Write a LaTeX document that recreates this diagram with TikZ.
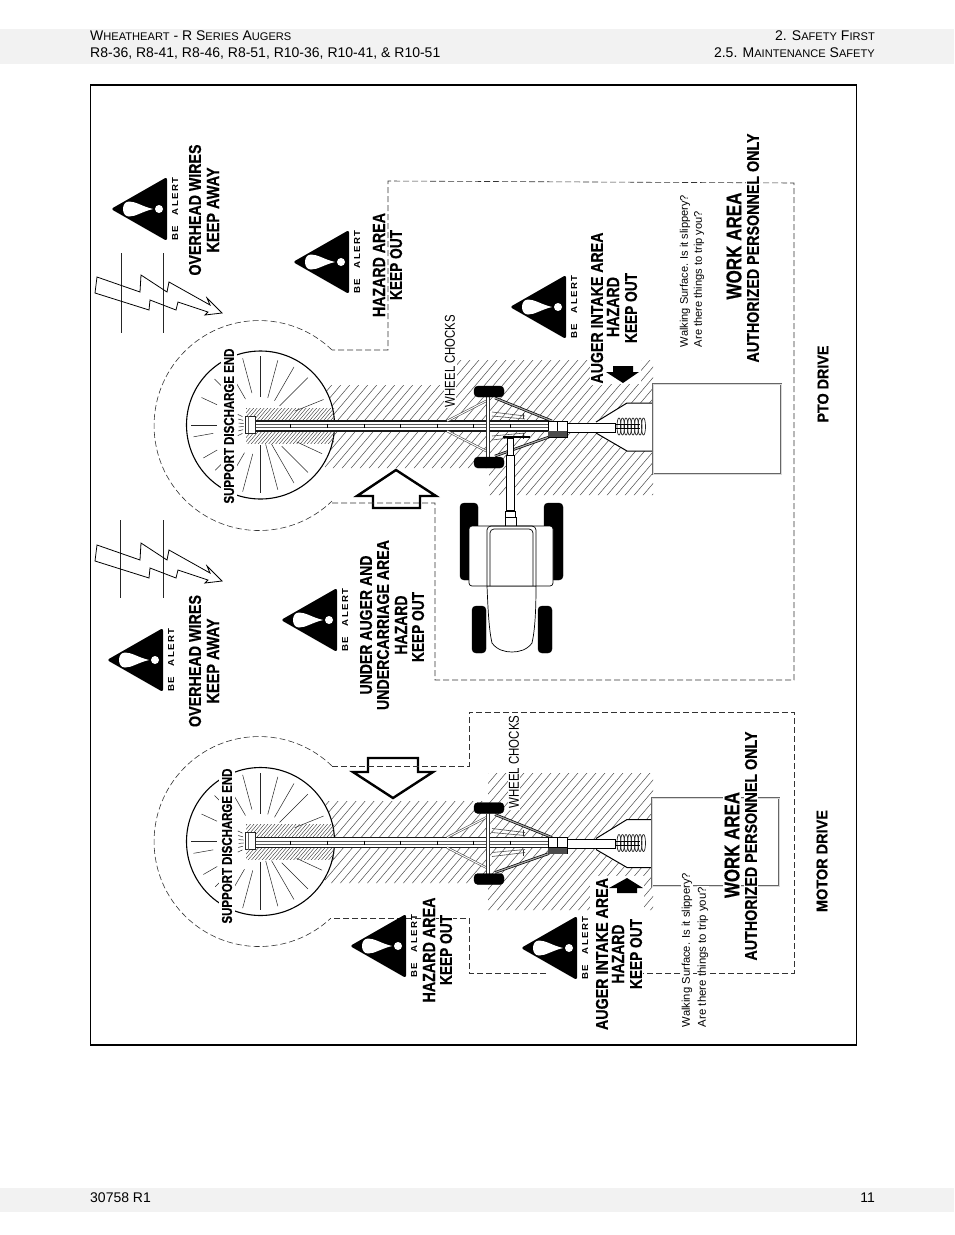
\documentclass[tikz,border=0pt]{standalone}
\usepackage{graphicx}
\usepackage{fontspec}
\usetikzlibrary{calc}
\setmainfont{Liberation Sans}
\newfontfamily\alertf[LetterSpace=14]{Liberation Sans}
\newfontfamily\labf[BoldFeatures={FakeBold=0.5}]{Liberation Sans}
\definecolor{bandgray}{HTML}{F2F2F2}
\tikzset{
  x=1pt,y=-1pt,
  lab/.style={rotate=90,fill=white,inner sep=1pt,anchor=center},
  hatchline/.style={line width=.5pt,black!70},
  dashline/.style={line width=.6pt,black!80,dash pattern=on 6pt off 3pt},
  spoke/.style={line width=.5pt,black!85},
  bigarrow/.style={draw=black,line width=2.4pt,fill=white,line join=miter},
  headtext/.style={anchor=base west,inner sep=0pt},
  headright/.style={anchor=base east,inner sep=0pt},
  strut/.style={line width=.6pt,black!70,double=white,double distance=1pt},
  drawbar/.style={line width=.7pt,black,double=black!35,double distance=1.2pt},
  tire/.style={fill=black,rounded corners=4pt},
  hopper/.style={line width=.7pt,black!60,fill=white,double=black!15,double distance=1pt}
}
\newcommand{\lbl}[6]{\node[lab] (#1) at (#2,#3) {\resizebox{#4pt}{#5pt}{\labf\bfseries #6}};}
\newcommand{\lblr}[6]{\node[lab] (#1) at (#2,#3) {\resizebox{#4pt}{#5}{#6}};}
\newcommand{\sctext}[2]{{\fontsize{14}{14}\selectfont #1}{\fontsize{11.1}{14}\selectfont #2}}
\newcommand{\alertsign}[3]{%
  \begin{scope}[shift={(#2,#3)}]
    \fill[black,rounded corners=2.5pt] (0,0)--(56,-32)--(56,32)--cycle;
    \fill[white] (42,0) .. controls (30,-3) and (25,-7.5) .. (18,-7.5) .. controls (10,-7.5) and (10,7.5) .. (18,7.5) .. controls (25,7.5) and (30,3) .. (42,0);
    \fill[white] (48,0) circle[radius=4];
    \node[rotate=90,inner sep=0pt] (#1) at (64,0) {\resizebox{63pt}{6pt}{\alertf\bfseries BE\hspace{1.1em}ALERT}};
  \end{scope}}
\newcommand{\hatchzone}[1]{%
  \begin{scope}
    \clip #1;
    \foreach \c in {650,659,...,1430} \draw[hatchline] (\c,0)--(\c-1105,1300);
  \end{scope}}
% the auger drawn for a tube on y=426; shifted for the lower one
\newcommand{\wheelplan}{%
  \fill[white] (260.5,425) circle[radius=74];
  \draw[line width=1.1pt,black] (260.5,425) circle[radius=74];
  \begin{scope}
    \clip (246,408) rectangle (334,443);
    \foreach \c in {590,593.5,...,715} \draw[line width=.4pt,black!80] (\c,0)--(\c-595,700);
  \end{scope}
  \foreach \a/\ri/\ro in {-90/28/69,-75/28/67,-60/28/67,-45/27/67,-22/37/68,-105/33/69,-120/30/66,-135/52/65,-155/48/65,180/44/70,170/48/68,150/50/66,135/52/64,120/32/67,105/30/69,90/20/68,75/20/67,60/22/67,45/30/67,25/40/68,155/20/25,165/18/23,175/17/22,185/17/22,195/18/23,205/20/25}
    \draw[spoke] ($(260.5,425)+(\a:\ri)$) -- ($(260.5,425)+(\a:\ro)$);
}
\newcommand{\augerplan}{%
  % tube
  \fill[white] (255,421) rectangle (548,431);
  \draw[line width=1.1pt,black!90] (255,421)--(548,421) (255,431)--(548,431);
  \draw[line width=.7pt,black!65] (255,424.5)--(548,424.5) (255,427.5)--(548,427.5);
  \foreach \x in {290,327,364,400,437,473,510} \draw[line width=.6pt,black] (\x,424)--(\x,428);
  \draw[line width=.8pt,black!85,fill=white] (245,416) rectangle (255,433);
  \draw[line width=.4pt,black!60] (248,416)--(248,433);
  % undercarriage
  \draw[strut] (488,400)--(447,421);
  \draw[strut] (488,452)--(447,431);
  \draw[line width=.6pt,black!70] (492,412)--(525,416) (492,416)--(525,419) (492,440)--(525,436) (492,436)--(525,433);
  \draw[line width=1pt,black!80] (523,413)--(523,419) (523,433)--(523,439);
  \draw[drawbar] (495,398)--(552,421);
  \draw[drawbar] (495,456)--(549,437);
  \draw[line width=.7pt,black!80,double=white,double distance=1.8pt] (488,397)--(488,457);
  \draw[tire] (474,386) rectangle (504,397);
  \draw[tire] (474,457) rectangle (504,468);
  % hopper funnel and intake
  \fill[white] (596,422)--(627,403)--(653,403)--(653,451)--(627,451)--(596,433)--cycle;
  \draw[line width=1pt,black] (652,403)--(627,403)--(596,422);
  \draw[line width=1pt,black] (652,451)--(627,451)--(596,433);
  \draw[line width=.9pt,black,fill=white] (567,423)--(615,423)--(615,432)--(567,432);
  \foreach \x in {619,622.5,...,645} \draw[line width=.7pt,black!85] (\x,426.5) ellipse[x radius=2,y radius=8.5];
  \draw[line width=.8pt,black] (615,424.5)--(640,424.5) (615,428.5)--(640,428.5);
  \draw[line width=1pt,black,fill=white] (548,421) rectangle (567,437);
  \draw[line width=.7pt,black] (557,421)--(557,431) (548,431)--(567,431);
  \fill[black!70] (548,431) rectangle (567,437);
}
\begin{document}
\begin{tikzpicture}
\useasboundingbox (0,0) rectangle (954,1235);
\fill[white] (0,0) rectangle (954,1235);
% bands
\fill[bandgray] (0,29) rectangle (954,64);
\fill[bandgray] (0,1188) rectangle (954,1212);
\node[headtext] (h1) at (90,40.5) {\sctext{W}{HEATHEART}\sctext{ - R S}{ERIES}\sctext{ A}{UGERS}};
\node[headtext] (h2) at (90,57.5) {\fontsize{14}{14}\selectfont R8-36, R8-41, R8-46, R8-51, R10-36, R10-41, \& R10-51};
\node[headright] (h3) at (875,40.5) {\sctext{2. S}{AFETY}\sctext{ F}{IRST}};
\node[headright] (h4) at (875,57.5) {\sctext{2.5. M}{AINTENANCE}\sctext{ S}{AFETY}};
\node[headtext] (f1) at (90,1202) {\fontsize{14}{14}\selectfont 30758 R1};
\node[headright] (f2) at (875,1202) {\fontsize{14}{14}\selectfont 11};
% frame
\draw[line width=1.4pt,black] (90.5,85) rectangle (856.5,1045);

% ---- TOP (PTO DRIVE)
\hatchzone{(325,385)--(457,385)--(457,360)--(653,360)--(653,495)--(489,495)--(489,468)--(325,468)--cycle}
\fill[white] (590,356) rectangle (641,384);
\wheelplan
\augerplan
\draw[hopper] (653,384) rectangle (781,474);
% lightning + wires
\draw[line width=.6pt,black!85] (121,253)--(121,333) (163,253)--(163,333);
\draw[line width=.8pt,black,fill=none,line join=miter] (97,277)--(140,292)--(141,275)--(167,292)--(169,282)--(210,305)--(207,298)--(222,313)--(205,315)--(208,312)--(178,302)--(176,310)--(150,300)--(149,310)--(95,293)--cycle;
% big arrow
\draw[bigarrow] (396,470)--(436,496)--(420,496)--(420,508)--(373,508)--(373,496)--(357,496)--cycle;
\fill[black] (623,383)--(639,372)--(633,372)--(633,366)--(613,366)--(613,372)--(606,372)--cycle;
% boundary
\coordinate (ta) at (332,350);
\coordinate (tb) at (332,503);
\draw[dashline] (ta) arc[start angle=-46,end angle=-314,radius=105];
\draw[dashline] (tb)--(435,503)--(435,680)--(794,680)--(794,183)--(388,181)--(388,350)--(ta);
% PTO shaft and tractor
\draw[line width=1.6pt,black] (503,437)--(530,437);
\draw[line width=.7pt,black,fill=white] (507,438) rectangle (513,510);
\draw[line width=.7pt,black,fill=white] (506,455) rectangle (514,510);
\draw[line width=.7pt,black,fill=white] (505,511) rectangle (515,517);
\draw[line width=.7pt,black,fill=white] (505,517) rectangle (516,526);
\draw[tire] (460,503) rectangle (478,580);
\draw[tire] (544,503) rectangle (563,580);
\draw[tire] (472,606) rectangle (486,653);
\draw[tire] (538,606) rectangle (552,653);
\draw[line width=.7pt,black,fill=white] (487,586) .. controls (488,610) and (489,630) .. (492,643) .. controls (497,650) and (505,652) .. (512,652) .. controls (519,652) and (527,650) .. (532,643) .. controls (535,630) and (536,610) .. (536,586) -- cycle;
\draw[line width=.7pt,black,fill=white,rounded corners=3pt] (469,526) rectangle (553,586);
\draw[line width=.7pt,black,rounded corners=4pt] (487,586)--(487,526)--(536,526)--(536,586);
\draw[line width=.7pt,black,rounded corners=4pt] (490,586)--(490,529)--(533,529)--(533,586);
% signs
\alertsign{s1}{111}{209}
\alertsign{s2}{293}{262}
\alertsign{s3}{510}{307}
% labels
\lbl{t1}{195}{210}{131}{12}{OVERHEAD WIRES}
\lbl{t2}{213}{210}{85}{12}{KEEP AWAY}
\lbl{t3}{379}{265}{104}{12}{HAZARD AREA}
\lbl{t4}{396}{265}{70}{12}{KEEP OUT}
\node[lab,inner sep=2.5pt] (t5) at (229,426) {\resizebox{155pt}{10pt}{\labf\bfseries SUPPORT DISCHARGE END}};
\lblr{t6}{450}{361}{92}{10pt}{WHEEL CHOCKS}
\lbl{t7}{597}{308}{151}{12}{AUGER INTAKE AREA}
\lbl{t8}{613}{307}{60}{12}{HAZARD}
\lbl{t9}{631}{308}{70}{12}{KEEP OUT}
\lblr{t10}{685}{271}{152}{!}{Walking Surface. Is it slippery?}
\lblr{t11}{699}{279}{136}{!}{Are there things to trip you?}
\lbl{t12}{734}{246}{107}{15}{WORK AREA}
\lbl{t13}{753}{248}{229}{12}{AUTHORIZED PERSONNEL ONLY}
\lbl{t14}{823}{384}{77}{11}{PTO DRIVE}

% ---- BOTTOM (MOTOR DRIVE)
\hatchzone{(325,801)--(488,801)--(488,773)--(653,773)--(653,910)--(488,910)--(488,883)--(325,883)--cycle}
\fill[white] (590,876) rectangle (644,912);
\begin{scope}[shift={(0,416.5)}]
  \wheelplan
  \augerplan
\end{scope}
\draw[hopper] (652,798) rectangle (779,886);
\begin{scope}[shift={(0,268)}]
  \draw[line width=.6pt,black!85] (120,252)--(120,330) (163,252)--(163,330);
  \draw[line width=.8pt,black,fill=none,line join=miter] (97,277)--(140,292)--(141,275)--(167,292)--(169,282)--(210,305)--(207,298)--(222,313)--(205,315)--(208,312)--(178,302)--(176,310)--(150,300)--(149,310)--(95,293)--cycle;
\end{scope}
\draw[bigarrow] (393,798)--(433,772)--(418,772)--(418,758)--(368,758)--(368,772)--(353,772)--cycle;
\fill[black] (627,878)--(643,888)--(637,888)--(637,893)--(617,893)--(617,888)--(609,888)--cycle;
\coordinate (ba) at (332,766);
\coordinate (bb) at (330,918);
\draw[dashline] (ba) arc[start angle=-46,end angle=-313,radius=105];
\draw[dashline] (ba)--(469,766)--(469,712)--(794,712)--(794,973)--(642,973);
\draw[dashline] (546,973)--(469,973)--(469,918)--(bb);
\alertsign{s4}{107}{660}
\alertsign{s5}{281}{620}
\alertsign{s6}{350}{946}
\alertsign{s7}{521}{948}
\lbl{b1}{195}{661}{132}{12}{OVERHEAD WIRES}
\lbl{b2}{213}{661}{85}{12}{KEEP AWAY}
\lbl{b3}{366}{625}{139}{12}{UNDER AUGER AND}
\lbl{b4}{383}{625}{170}{12}{UNDERCARRIAGE AREA}
\lbl{b5}{401}{625}{59}{12}{HAZARD}
\lbl{b6}{418}{627}{70}{12}{KEEP OUT}
\node[lab,inner sep=2.5pt] (b7) at (227,846) {\resizebox{155pt}{10pt}{\labf\bfseries SUPPORT DISCHARGE END}};
\lbl{b8}{429}{950}{105}{12}{HAZARD AREA}
\lbl{b9}{446}{950}{70}{12}{KEEP OUT}
\lblr{b10}{514}{762}{93}{10pt}{WHEEL CHOCKS}
\lbl{b11}{602}{954}{152}{12}{AUGER INTAKE AREA}
\lbl{b12}{618}{954}{59}{12}{HAZARD}
\lbl{b13}{636}{954}{70}{12}{KEEP OUT}
\lblr{b14}{687}{950}{154}{!}{Walking Surface. Is it slippery?}
\lblr{b15}{703}{957}{140}{!}{Are there things to trip you?}
\lbl{b16}{732}{845}{106}{15}{WORK AREA}
\lbl{b17}{751}{846}{229}{12}{AUTHORIZED PERSONNEL ONLY}
\lbl{b18}{822}{861}{102}{11}{MOTOR DRIVE}
\end{tikzpicture}
\end{document}
